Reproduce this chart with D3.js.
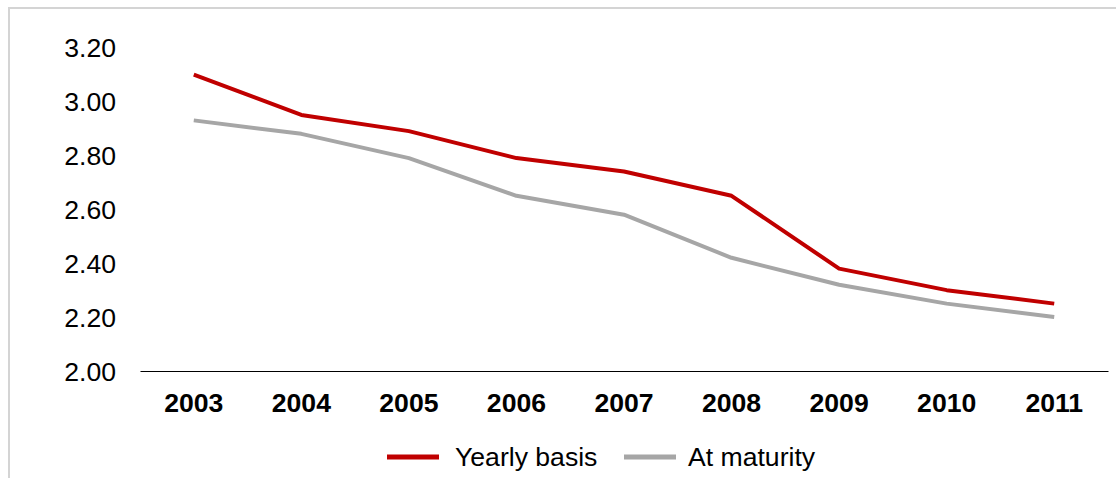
<!DOCTYPE html>
<html>
<head>
<meta charset="utf-8">
<script src="https://cdn.jsdelivr.net/npm/d3@7"></script>
<style>
  html, body { margin: 0; padding: 0; background: #fff; }
  svg { display: block; font-family: "Liberation Sans", Arial, sans-serif; }
</style>
</head>
<body>
<svg id="chart" width="1116" height="478"></svg>
<script>
// Chart data
const years = ["2003", "2004", "2005", "2006", "2007", "2008", "2009", "2010", "2011"];
const yearlyBasis = [3.10, 2.95, 2.89, 2.79, 2.74, 2.65, 2.38, 2.30, 2.25];
const atMaturity = [2.93, 2.88, 2.79, 2.65, 2.58, 2.42, 2.32, 2.25, 2.20];
const yTicks = [2.00, 2.20, 2.40, 2.60, 2.80, 3.00, 3.20];
const seriesNames = ["Yearly basis", "At maturity"];
const seriesColors = ["#c00000", "#a6a6a6"];

const svg = d3.select("#chart");
const fontSize = 26.6;

// Outer frame (top and left edges visible)
svg.append("rect")
  .attr("x", 9).attr("y", 8)
  .attr("width", 1200).attr("height", 600)
  .attr("fill", "none")
  .attr("stroke", "#d4d4d4")
  .attr("stroke-width", 2);

const plot = { left: 140, right: 1108, top: 47.6, bottom: 371 };

const x = d3.scaleBand().domain(years).range([plot.left, plot.right]);
const y = d3.scaleLinear().domain([2.0, 3.2]).range([plot.bottom, plot.top]);

// Y axis labels (no axis line or ticks)
const yAxis = svg.append("g")
  .attr("transform", `translate(116,0)`)
  .call(d3.axisLeft(y).tickValues(yTicks).tickFormat(d3.format(".2f")).tickSize(0).tickPadding(0));
yAxis.select(".domain").remove();
yAxis.selectAll("text")
  .attr("font-size", fontSize)
  .attr("font-family", "Liberation Sans, Arial, sans-serif")
  .attr("fill", "#000")
  .attr("dy", "0.35em");

// X axis baseline and bold year labels
const xAxis = svg.append("g")
  .attr("transform", `translate(0,${plot.bottom})`)
  .call(d3.axisBottom(x).tickSize(0).tickPadding(22));
xAxis.select(".domain").attr("stroke", "#000").attr("stroke-width", 1.2);
xAxis.selectAll("text")
  .attr("font-size", fontSize)
  .attr("font-weight", "bold")
  .attr("font-family", "Liberation Sans, Arial, sans-serif")
  .attr("fill", "#000");

// Series lines
const line = d3.line()
  .x((d, i) => x(years[i]) + x.bandwidth() / 2)
  .y(d => y(d));

[yearlyBasis, atMaturity].forEach((vals, k) => {
  svg.append("path")
    .datum(vals)
    .attr("d", line)
    .attr("fill", "none")
    .attr("stroke", seriesColors[k])
    .attr("stroke-width", 4)
    .attr("stroke-linejoin", "round");
});

// Legend
const legendY = 457;
const legendItems = [
  { x0: 387, tx: 455 },
  { x0: 624, tx: 688 }
];
legendItems.forEach((it, k) => {
  svg.append("line")
    .attr("x1", it.x0).attr("x2", it.x0 + 52)
    .attr("y1", legendY).attr("y2", legendY)
    .attr("stroke", seriesColors[k])
    .attr("stroke-width", 5);
  svg.append("text")
    .attr("x", it.tx).attr("y", legendY)
    .attr("dy", "0.35em")
    .attr("font-size", fontSize)
    .attr("fill", "#000")
    .text(seriesNames[k]);
});
</script>
</body>
</html>
